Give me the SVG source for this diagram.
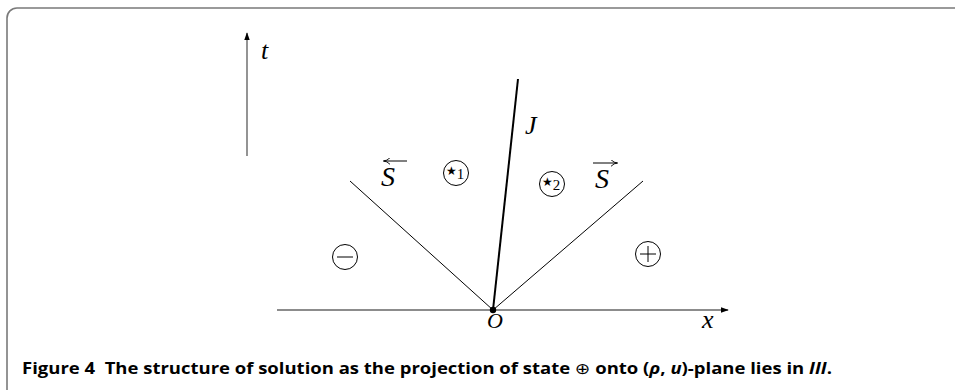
<svg xmlns="http://www.w3.org/2000/svg" width="955" height="392" viewBox="0 0 955 392">
<style>
.frame{fill:none;stroke:#7a7a7a;stroke-width:1.6}
.axis{fill:none;stroke:#666;stroke-width:1.4}
.thin{fill:none;stroke:#000;stroke-width:1}
.thick{fill:none;stroke:#000;stroke-width:2}
.circ{fill:none;stroke:#000;stroke-width:1}
.math{font-family:"Liberation Serif","DejaVu Serif",serif;font-style:italic;fill:#000}
.sub{font-family:"Liberation Serif","DejaVu Serif",serif;font-size:15px}
.sym{font-family:"DejaVu Sans",sans-serif;fill:#000;font-size:12px}
.cap{font-family:"Open Sans","Liberation Sans",sans-serif;font-weight:bold;font-size:15.5px;fill:#000}
</style>
<defs>
<marker id="ah" viewBox="0 0 10 10" refX="9" refY="5" markerWidth="8" markerHeight="8" markerUnits="userSpaceOnUse" orient="auto">
<path d="M0,1.5 L10,5 L0,8.5 Z" fill="#000"/>
</marker>
<marker id="sa" viewBox="0 0 10 10" refX="9" refY="5" markerWidth="7" markerHeight="7" markerUnits="userSpaceOnUse" orient="auto">
<path d="M0,0 Q5,5 10,5 Q5,5 0,10" fill="none" stroke="#000" stroke-width="1.3"/>
</marker>
</defs>
<path class="frame" d="M955,8 H17 A10,10 0 0 0 7,18 V390"/>
<g id="connectors">
<line class="axis" x1="247" y1="156" x2="247" y2="33" marker-end="url(#ah)"/>
<line class="axis" x1="277" y1="310" x2="728" y2="310" marker-end="url(#ah)"/>
<line class="thin" x1="493" y1="310" x2="350" y2="181"/>
<line class="thin" x1="493" y1="310" x2="643" y2="181"/>
<line class="thick" x1="493" y1="310" x2="518" y2="79"/>
</g>
<g id="origin">
<circle cx="493" cy="310" r="3.2" fill="#000"/>
<text class="math" x="487" y="328" font-size="22">O</text>
</g>
<g id="label-t"><text class="math" x="261" y="59" font-size="26">t</text></g>
<g id="label-x"><text class="math" x="702" y="328" font-size="26">x</text></g>
<g id="label-J"><text class="math" x="525" y="134" font-size="26">J</text></g>
<g id="S-left">
<text class="math" x="381" y="186" font-size="28">S</text>
<line x1="407" y1="161" x2="384" y2="161" stroke="#000" stroke-width="1" marker-end="url(#sa)"/>
</g>
<g id="S-right">
<text class="math" x="595" y="188" font-size="28">S</text>
<line x1="593" y1="163" x2="617" y2="163" stroke="#000" stroke-width="1" marker-end="url(#sa)"/>
</g>
<g id="state-minus">
<circle class="circ" cx="345" cy="257" r="12.5"/>
<line x1="337" y1="257" x2="353" y2="257" stroke="#000" stroke-width="1"/>
</g>
<g id="state-plus">
<circle class="circ" cx="648" cy="254" r="12.5"/>
<line x1="640" y1="254" x2="656" y2="254" stroke="#000" stroke-width="1"/>
<line x1="648" y1="246" x2="648" y2="262" stroke="#000" stroke-width="1"/>
</g>
<g id="state-star1">
<circle class="circ" cx="456" cy="173" r="12.5"/>
<text class="sym" x="446" y="175">★<tspan class="sub" dy="4">1</tspan></text>
</g>
<g id="state-star2">
<circle class="circ" cx="552" cy="184" r="12.5"/>
<text class="sym" x="542" y="186">★<tspan class="sub" dy="4">2</tspan></text>
</g>
<g id="caption">
<text class="cap" x="22" y="374" textLength="810" lengthAdjust="spacingAndGlyphs" xml:space="preserve">Figure 4  The structure of solution as the projection of state <tspan font-weight="normal" font-family="DejaVu Sans,sans-serif">⊕</tspan> onto (<tspan font-style="italic">ρ</tspan>, <tspan font-style="italic">u</tspan>)-plane lies in <tspan font-style="italic">III</tspan>.</text>
</g>
</svg>
